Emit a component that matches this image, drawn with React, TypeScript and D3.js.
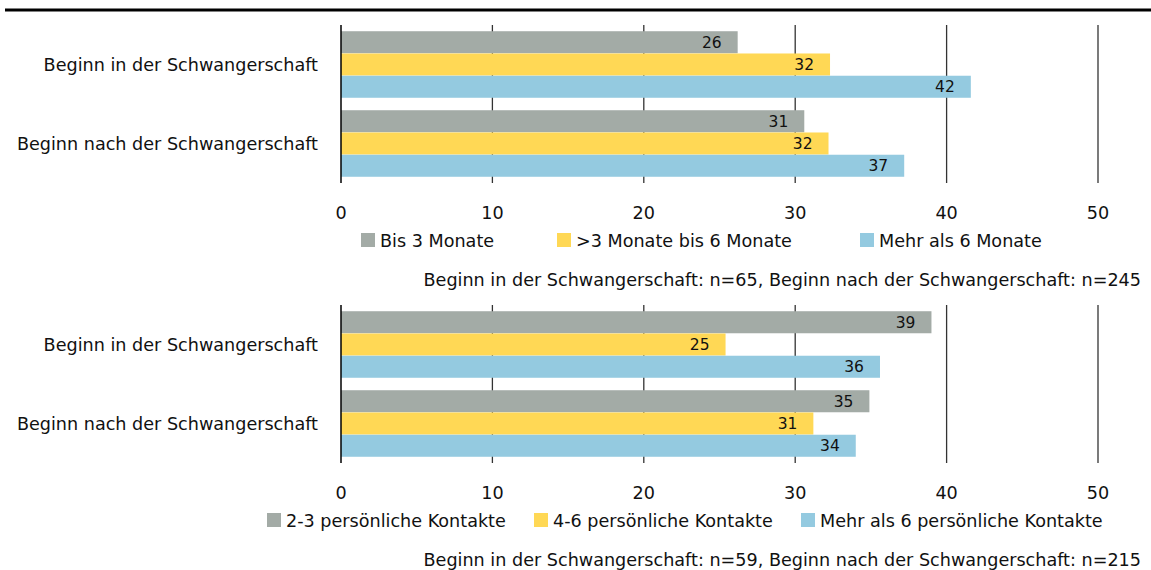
import React from "react";
import * as d3 from "d3";

const categories = ["Beginn in der Schwangerschaft", "Beginn nach der Schwangerschaft"];

const durationSeries = ["Bis 3 Monate", ">3 Monate bis 6 Monate", "Mehr als 6 Monate"];
const durationValues = [
  [26.2, 32.3, 41.6],
  [30.6, 32.2, 37.2],
];
const durationNote = "Beginn in der Schwangerschaft: n=65, Beginn nach der Schwangerschaft: n=245";

const contactSeries = ["2-3 persönliche Kontakte", "4-6 persönliche Kontakte", "Mehr als 6 persönliche Kontakte"];
const contactValues = [
  [39.0, 25.4, 35.6],
  [34.9, 31.2, 34.0],
];
const contactNote = "Beginn in der Schwangerschaft: n=59, Beginn nach der Schwangerschaft: n=215";

const ticks = [0, 10, 20, 30, 40, 50];
const colors = ["#a3aba6", "#ffd855", "#94cae0"];

const FONT = "DejaVu Sans, sans-serif";
const FS = 17.6;

const x = d3.scaleLinear().domain([0, 50]).range([341, 1098]);

type ChartProps = {
  top: number;
  series: string[];
  values: number[][];
  note: string;
  legendX: number[];
};

const Chart = ({ top, series, values, note, legendX }: ChartProps) => {
  const plotTop = top;
  const plotBottom = top + 158;
  const y0 = d3
    .scaleBand<string>()
    .domain(categories)
    .range([plotTop, plotBottom])
    .paddingInner(0.152)
    .paddingOuter(0.076);
  const y1 = d3
    .scaleBand<number>()
    .domain(d3.range(series.length))
    .range([0, y0.bandwidth()])
    .padding(0.01);
  const fmt = d3.format(".0f");

  return (
    <g>
      {/* grid */}
      {ticks.slice(1).map((t) => (
        <line
          key={t}
          x1={x(t)}
          x2={x(t)}
          y1={plotTop}
          y2={plotBottom}
          stroke="#333"
          strokeWidth={1.3}
        />
      ))}
      {/* bars */}
      {categories.map((c, ci) => (
        <g key={c} transform={`translate(0,${y0(c)})`}>
          {values[ci].map((v, si) => (
            <g key={si}>
              <rect
                x={x(0)}
                y={y1(si)}
                width={x(v) - x(0)}
                height={y1.bandwidth()}
                fill={colors[si]}
              />
              <text
                x={x(v) - 16}
                y={(y1(si) ?? 0) + y1.bandwidth() / 2 + 5.5}
                textAnchor="end"
                fontSize={15.5}
                fill="#111"
              >
                {fmt(v)}
              </text>
            </g>
          ))}
        </g>
      ))}
      <line x1={x(0)} x2={x(0)} y1={plotTop} y2={plotBottom} stroke="#000" strokeWidth={1.5} />
      {/* category labels */}
      {categories.map((c) => (
        <text
          key={c}
          x={318}
          y={(y0(c) ?? 0) + y0.bandwidth() / 2 + 6.5}
          textAnchor="end"
          fontSize={FS}
          fill="#111"
        >
          {c}
        </text>
      ))}
      {/* tick labels */}
      {ticks.map((t) => (
        <text key={t} x={x(t)} y={plotBottom + 36} textAnchor="middle" fontSize={FS} fill="#111">
          {t}
        </text>
      ))}
      {/* legend */}
      {series.map((s, i) => (
        <g key={s} transform={`translate(${legendX[i]},${plotBottom + 50})`}>
          <rect x={0} y={0} width={14} height={14} fill={colors[i]} />
          <text x={19} y={13.5} fontSize={FS} fill="#111">
            {s}
          </text>
        </g>
      ))}
      <text x={1141} y={plotBottom + 103} textAnchor="end" fontSize={FS} fill="#111">
        {note}
      </text>
    </g>
  );
};

export default function App() {
  return (
    <svg
      width={1151}
      height={570}
      style={{ position: "absolute", left: 0, top: 0, background: "#fff" }}
      fontFamily={FONT}
    >
      <line x1={5} x2={1151} y1={10} y2={10} stroke="#000" strokeWidth={3} />
      <Chart
        top={25}
        series={durationSeries}
        values={durationValues}
        note={durationNote}
        legendX={[361, 557, 860]}
      />
      <Chart
        top={305}
        series={contactSeries}
        values={contactValues}
        note={contactNote}
        legendX={[267, 534, 801]}
      />
    </svg>
  );
}
